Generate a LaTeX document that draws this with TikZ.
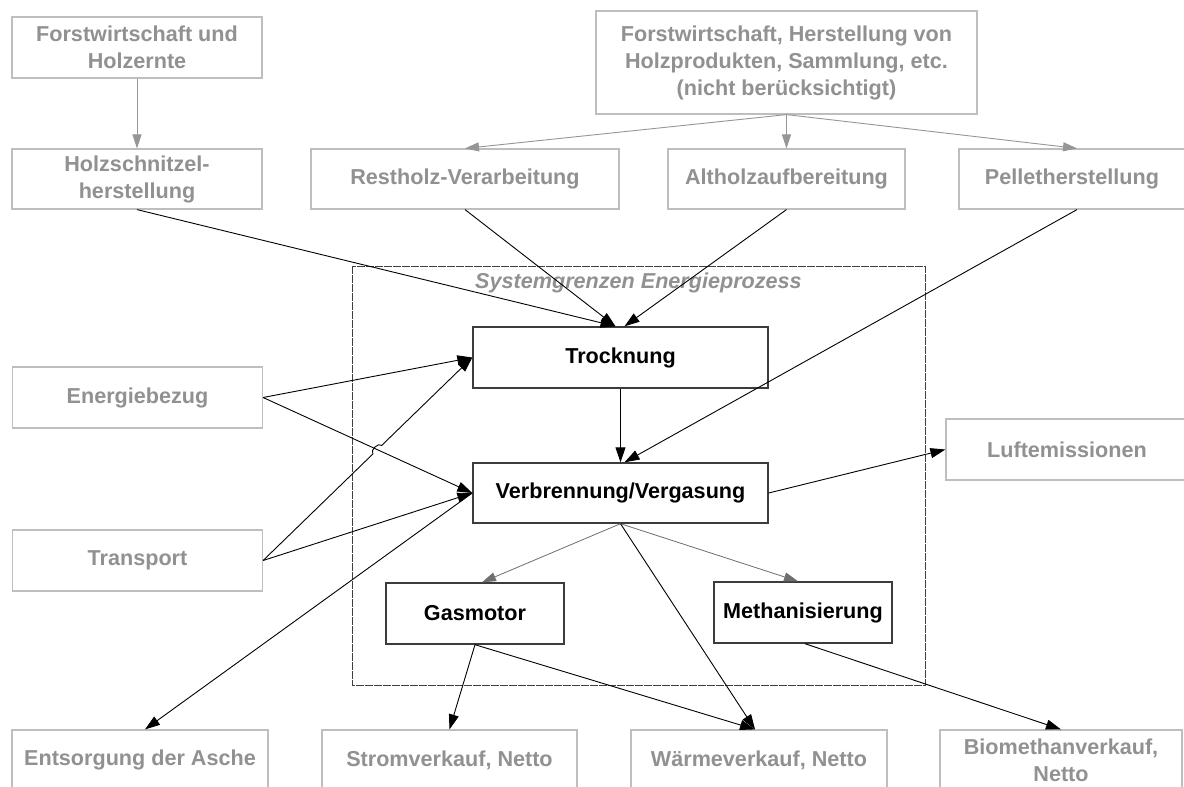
\documentclass[tikz,border=0pt]{standalone}
\usepackage{fontspec}
\setmainfont{Liberation Sans}
\usetikzlibrary{arrows.meta,calc}
\definecolor{txtgray}{RGB}{145,145,145}
\definecolor{boxgray}{RGB}{190,190,190}
\definecolor{arrgray}{RGB}{150,150,150}
\definecolor{arrdark}{RGB}{110,110,110}
\definecolor{bord}{RGB}{60,60,60}
\tikzset{
  base/.style={rectangle, inner sep=0pt, align=center, font=\fontsize{21.6}{27}\selectfont\bfseries},
  gbox/.style={base, draw=boxgray, line width=1.2pt, text=txtgray},
  bbox/.style={base, draw=bord, line width=1.4pt, text=black, fill=white},
  blk/.style={draw=black, line width=0.9pt, -{Triangle[length=15pt,width=10pt]}},
  gra/.style={draw=arrgray, line width=0.9pt, -{Triangle[length=14pt,width=9pt]}, arrgray},
  grd/.style={draw=arrdark, line width=0.8pt, -{Triangle[length=14pt,width=9pt]}, arrdark},
  bound/.style={draw=black!75, line width=0.8pt, dash pattern=on 8pt off 1pt}
}
\begin{document}
\begin{tikzpicture}[x=1pt,y=-1pt]
\clip (0,0) rectangle (1184,787);
\fill[white] (0,0) rectangle (1184,787);
% system boundary
\draw[bound] (352,266) rectangle (925,685);
\node[font=\fontsize{21.6}{27}\selectfont\bfseries\itshape, text=txtgray, inner sep=0pt] (sg) at (638.5,283) {Systemgrenzen Energieprozess};
% grey boxes
\node[gbox, minimum width=250, minimum height=61] (f1) at (137,47.5) {Forstwirtschaft und\\Holzernte};
\node[gbox, minimum width=381, minimum height=103] (f2) at (786.5,62.5) {Forstwirtschaft, Herstellung von\\Holzprodukten, Sammlung, etc.\\(nicht berücksichtigt)};
\node[gbox, minimum width=250, minimum height=60] (hs) at (137,179) {Holzschnitzel-\\herstellung};
\node[gbox, minimum width=308, minimum height=60] (rh) at (465,179) {Restholz-Verarbeitung};
\node[gbox, minimum width=237, minimum height=60] (ah) at (786.5,179) {Altholzaufbereitung};
\node[gbox, minimum width=226, minimum height=60] (ph) at (1072,179) {Pelletherstellung};
\node[gbox, minimum width=250, minimum height=61] (eb) at (137.5,397.5) {Energiebezug};
\node[gbox, minimum width=250, minimum height=61] (tr) at (137.5,560.5) {Transport};
\node[gbox, minimum width=242, minimum height=61] (lu) at (1067,449.5) {Luftemissionen};
\node[gbox, minimum width=256, minimum height=60] (en) at (140,760) {Entsorgung der Asche};
\node[gbox, minimum width=255, minimum height=60] (sv) at (449.5,760) {Stromverkauf, Netto};
\node[gbox, minimum width=256, minimum height=60] (wv) at (759,760) {Wärmeverkauf, Netto};
\node[gbox, minimum width=242, minimum height=60] (bv) at (1061,760) {Biomethanverkauf,\\Netto};
% black boxes
\node[bbox, minimum width=295, minimum height=61] (trk) at (620.5,357.5) {Trocknung};
\node[bbox, minimum width=295, minimum height=60] (vv) at (620.5,493) {Verbrennung/Vergasung};
\node[bbox, minimum width=178, minimum height=61] (gm) at (475,613.5) {Gasmotor};
\node[bbox, minimum width=178, minimum height=61] (me) at (803,612.5) {Methanisierung};
% grey arrows
\draw[gra] (f1.south) -- (hs.north);
\draw[gra] (f2.south) -- (rh.north);
\draw[gra] (f2.south) -- (ah.north);
\draw[gra] (f2.south) -- ([xshift=5]ph.north);
\draw[grd] (vv.south) -- ([xshift=7]gm.north);
\draw[grd] (vv.south) -- ([xshift=-5]me.north);
% black arrows
\draw[blk] (hs.south) -- ([xshift=-5]trk.north);
\draw[blk] (rh.south) -- ([xshift=-5]trk.north);
\draw[blk] (ah.south) -- ([xshift=4]trk.north);
\draw[blk] ([xshift=5]ph.south) -- ([xshift=4]vv.north);
\draw[blk] (trk.south) -- (vv.north);
\draw[blk] (eb.east) -- (trk.west);
\draw[blk] (eb.east) -- (vv.west);
\draw[blk] (tr.east) -- ($(tr.east)!0.525!(trk.west)$) to[bend left=90] ($(tr.east)!0.567!(trk.west)$) -- (trk.west);
\draw[blk] (tr.east) -- (vv.west);
\draw[blk] (vv.west) -- ([xshift=5]en.north);
\draw[blk] (vv.east) -- (lu.west);
\draw[blk] (vv.south) -- ([xshift=-4]wv.north);
\draw[blk] (gm.south) -- (sv.north);
\draw[blk] (gm.south) -- ([xshift=-4]wv.north);
\draw[blk] ([xshift=2]me.south) -- (bv.north);
\end{tikzpicture}
\end{document}
